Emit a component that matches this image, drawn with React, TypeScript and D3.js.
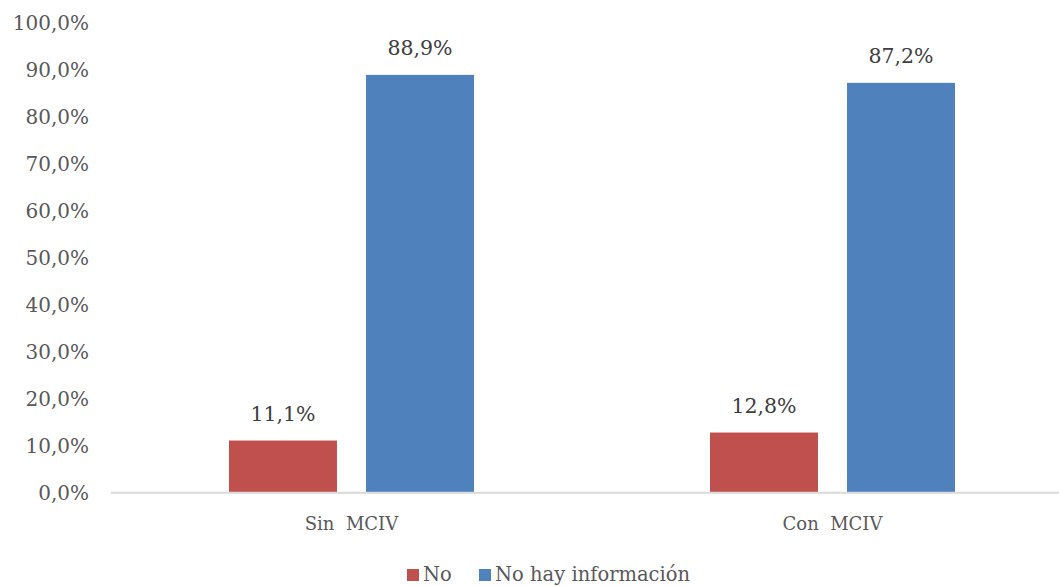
import { useEffect, useRef } from 'react'
import * as d3 from 'd3'

const categories = ['Sin  MCIV', 'Con  MCIV']
const seriesNames = ['No', 'No hay información']
const noValues = [11.1, 12.8]
const noInfoValues = [88.9, 87.2]
const yTicks = [0, 10, 20, 30, 40, 50, 60, 70, 80, 90, 100]
const colors = ['#C0504D', '#4F81BD']

const fmt = (v: number) => v.toFixed(1).replace('.', ',') + '%'

export default function App() {
  const ref = useRef<SVGSVGElement | null>(null)

  useEffect(() => {
    const svg = d3.select(ref.current)
    svg.selectAll('*').remove()

    const font = "'DejaVu Serif', serif"
    const left = 111
    const right = 1073
    const top = 22.7
    const bottom = 492.7

    const x0 = d3.scaleBand().domain(categories).range([left, right])
    // bars 108px wide with a 29px gap inside each group
    const x1 = d3.scaleBand().domain(seriesNames).range([-122.5, 122.5]).paddingInner(0.212)
    const y = d3.scaleLinear().domain([0, 100]).range([bottom, top])

    // y tick labels
    svg
      .append('g')
      .selectAll('text')
      .data(yTicks)
      .enter()
      .append('text')
      .attr('x', 89)
      .attr('y', (d) => y(d))
      .attr('dy', '0.35em')
      .attr('text-anchor', 'end')
      .attr('font-family', font)
      .attr('font-size', 20)
      .attr('fill', '#595959')
      .text((d) => fmt(d))

    // bars + data labels
    const series = [noValues, noInfoValues]
    series.forEach((vals, si) => {
      const g = svg.append('g')
      const bx = (i: number) => x0(categories[i])! + x0.bandwidth() / 2 + x1(seriesNames[si])!
      g.selectAll('rect')
        .data(vals)
        .enter()
        .append('rect')
        .attr('x', (d, i) => bx(i))
        .attr('y', (d) => y(d))
        .attr('width', x1.bandwidth())
        .attr('height', (d) => bottom - y(d))
        .attr('fill', colors[si])

      g.selectAll('text')
        .data(vals)
        .enter()
        .append('text')
        .attr('x', (d, i) => bx(i) + x1.bandwidth() / 2)
        .attr('y', (d) => y(d) - 20)
        .attr('text-anchor', 'middle')
        .attr('font-family', font)
        .attr('font-size', 20.5)
        .attr('fill', '#404040')
        .text((d) => fmt(d))
    })

    // x axis line
    svg
      .append('line')
      .attr('x1', left)
      .attr('x2', right)
      .attr('y1', bottom)
      .attr('y2', bottom)
      .attr('stroke', '#D9D9D9')
      .attr('stroke-width', 2)

    // category labels
    svg
      .append('g')
      .selectAll('text')
      .data(categories)
      .enter()
      .append('text')
      .attr('x', (d) => x0(d)! + x0.bandwidth() / 2)
      .attr('y', 530)
      .attr('text-anchor', 'middle')
      .attr('font-family', font)
      .attr('font-size', 18)
      .attr('fill', '#595959')
      .style('white-space', 'pre')
      .text((d) => d)

    // legend
    const legend = svg.append('g')
    const legendX = [407, 479]
    seriesNames.forEach((name, i) => {
      legend
        .append('rect')
        .attr('x', legendX[i])
        .attr('y', 569)
        .attr('width', 12)
        .attr('height', 12)
        .attr('fill', colors[i])
      legend
        .append('text')
        .attr('x', legendX[i] + 16)
        .attr('y', 581)
        .attr('font-family', font)
        .attr('font-size', 19.5)
        .attr('fill', '#595959')
        .text(name)
    })
  }, [])

  return (
    <svg
      width={1059}
      height={586}
      ref={ref}
      style={{ position: 'absolute', left: 0, top: 0, background: '#fff' }}
    />
  )
}
